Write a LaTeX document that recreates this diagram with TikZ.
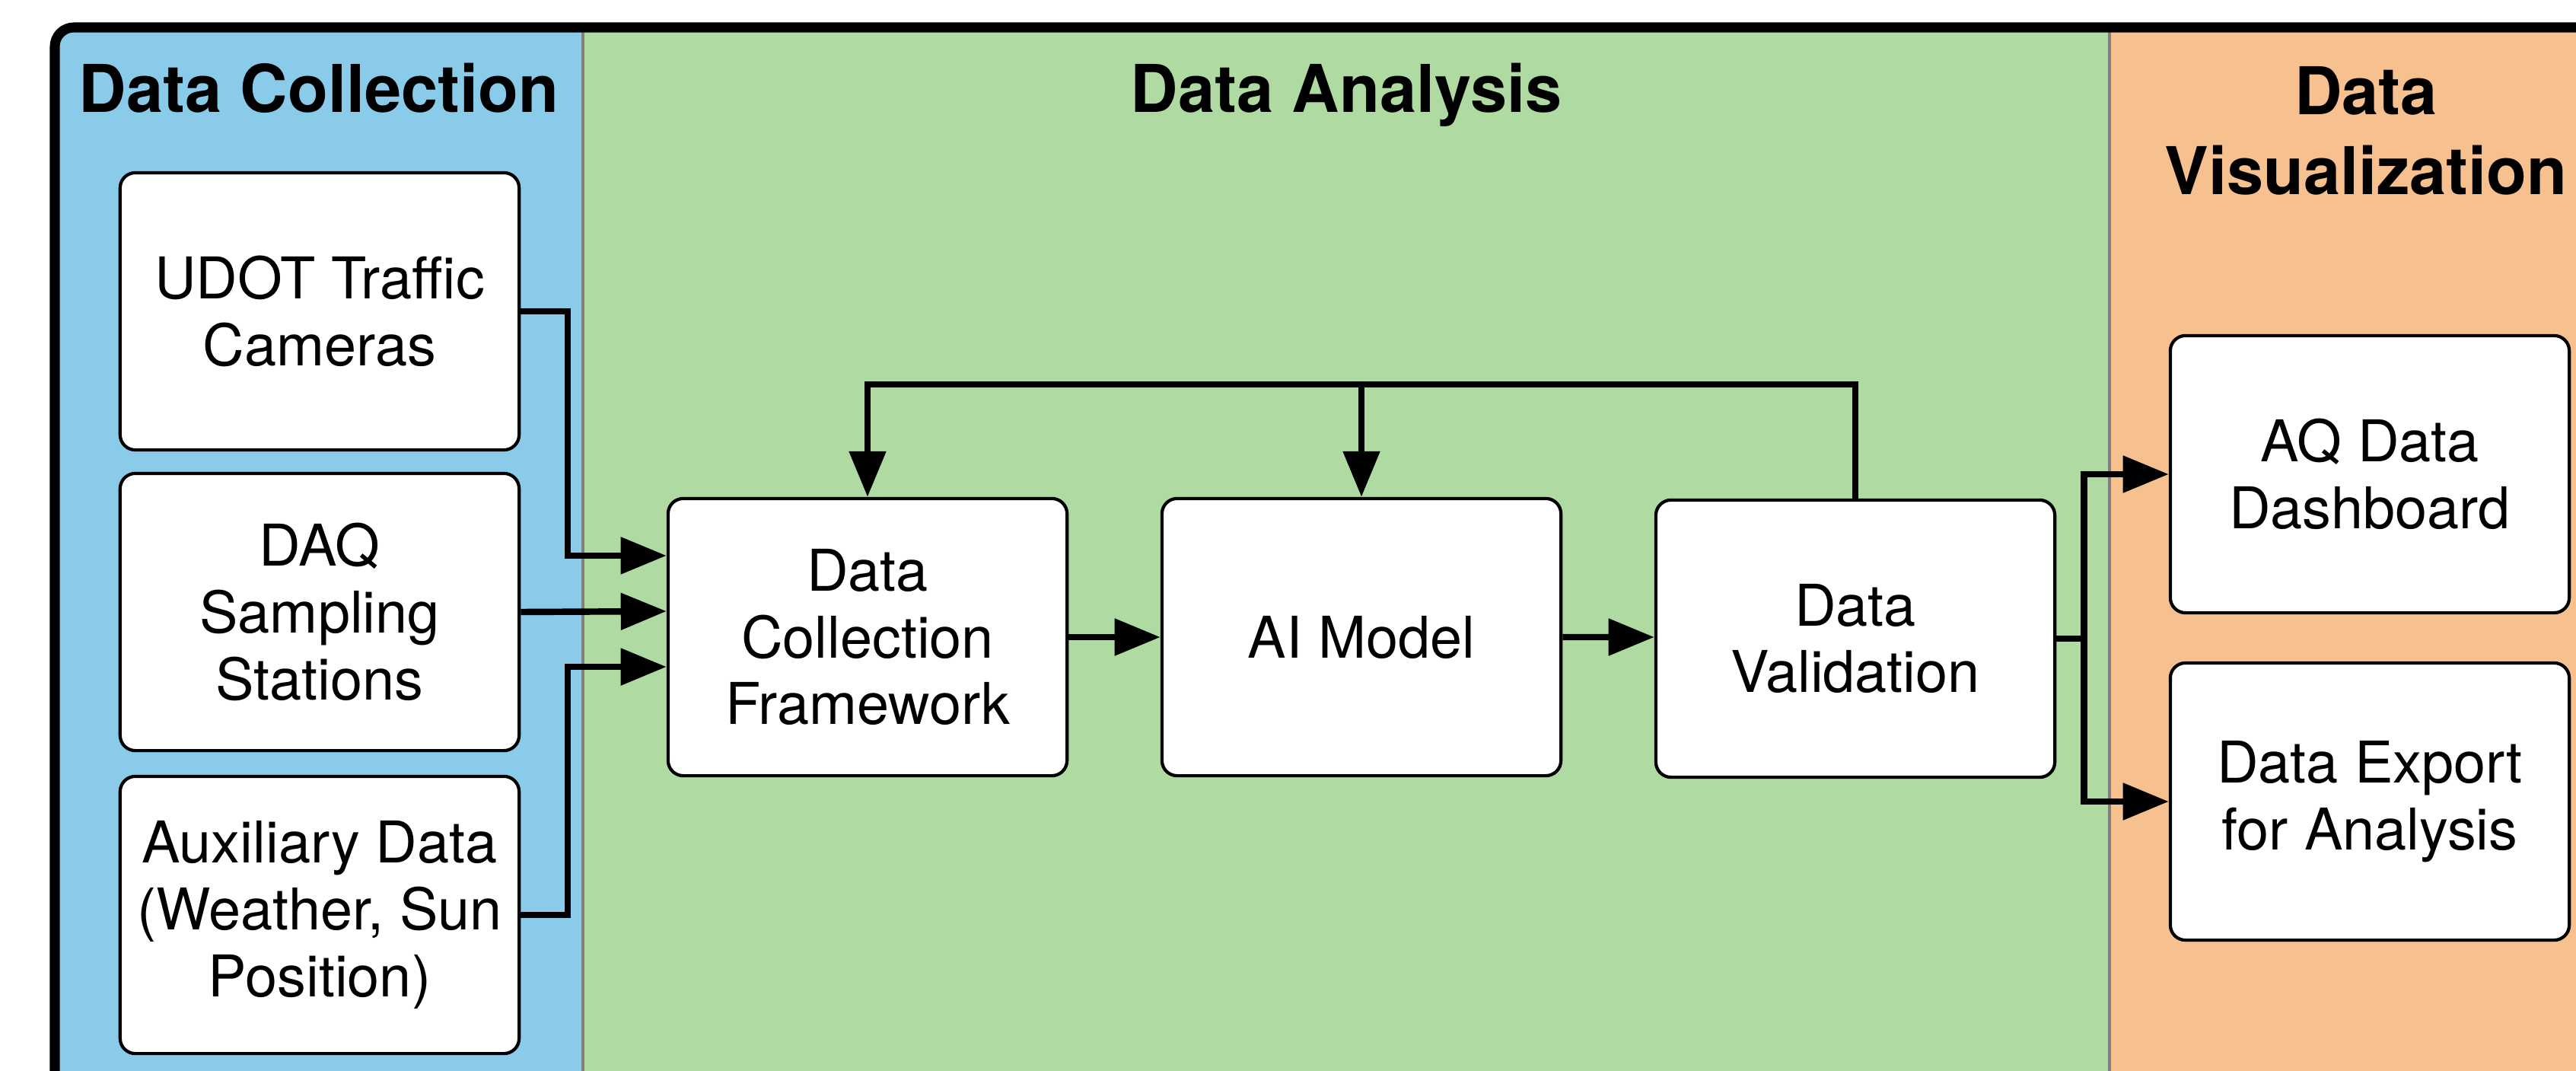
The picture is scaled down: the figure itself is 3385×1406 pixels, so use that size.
\documentclass[tikz,border=0pt]{standalone}
\usepackage{fontspec}
\setmainfont{TeX Gyre Heros}
\usetikzlibrary{arrows.meta}
\definecolor{panelblue}{RGB}{139,203,234}
\definecolor{panelgreen}{RGB}{175,219,163}
\definecolor{panelorange}{RGB}{247,192,143}
\definecolor{divgray}{RGB}{128,128,128}
\tikzset{
  box/.style={draw=black, line width=1.2pt, fill=white, rounded corners=0.2cm,
    minimum width=5.24cm, minimum height=3.64cm, align=center, inner sep=0pt,
    font=\fontsize{21.5}{25}\selectfont},
  paneltitle/.style={font=\bfseries\fontsize{24.6}{30}\selectfont, align=center, inner sep=0pt},
  conn/.style={draw=black, line width=2.4pt},
  arr/.style={conn, -{Triangle[length=0.6cm, width=0.47cm]}}
}
\begin{document}
\begin{tikzpicture}[x=0.01cm, y=-0.01cm]
\path[use as bounding box] (0,0) rectangle (3385,1406);
\clip (0,0) rectangle (3385,1406);
\fill[white] (0,0) rectangle (3385,1406);
% panels
\begin{scope}
  \clip[rounded corners=0.25cm] (72,36) rectangle (3446,1470);
  \fill[panelblue] (72,36) rectangle (766,1470);
  \fill[panelgreen] (766,36) rectangle (2772,1470);
  \fill[panelorange] (2772,36) rectangle (3446,1470);
\end{scope}
\draw[divgray, line width=1pt] (766,36) -- (766,1470);
\draw[divgray, line width=1pt] (2772,36) -- (2772,1470);
\draw[black, line width=3.7pt, rounded corners=0.25cm] (72,36) rectangle (3446,1470);
% titles
\node[paneltitle, anchor=base] (tcol) at (419,147) {Data Collection};
\node[paneltitle, anchor=base] (tana) at (1769,147) {Data Analysis};
\node[paneltitle, anchor=center] (tvis) at (3109,172) {Data\\Visualization};
% boxes
\node[box] (udot) at (420,409) {UDOT Traffic\\Cameras};
\node[box] (daq) at (420,804) {DAQ\\Sampling\\Stations};
\node[box] (aux) at (420,1202) {Auxiliary Data\\(Weather, Sun\\Position)};
\node[box] (dcf) at (1140,837) {Data\\Collection\\Framework};
\node[box] (ai) at (1789,837) {AI Model};
\node[box] (dv) at (2438,839) {Data\\Validation};
\node[box] (aq) at (3114,623) {AQ Data\\Dashboard};
\node[box] (exp) at (3114,1053) {Data Export\\for Analysis};
% inputs
\draw[arr] (udot.east) -- ++(62,0) |- ([yshift=1.07cm]dcf.west);
\draw[arr] (daq.east) -- ([yshift=0.34cm]dcf.west);
\draw[arr] (aux.east) -- ++(62,0) |- ([yshift=-0.39cm]dcf.west);
% main chain
\draw[arr] (dcf.east) -- (ai.west);
\draw[arr] (ai.east) -- ([yshift=0.02cm]dv.west);
% feedback
\draw[arr] (dv.north) -- ++(0,-150) coordinate (fbtop) -| (dcf.north);
\draw[arr] (ai.north |- fbtop) -- (ai.north);
% outputs
\draw[conn] (dv.east) -- ++(36,0) coordinate (split);
\draw[arr] (split) |- (aq.west);
\draw[arr] (split) |- (exp.west);
\end{tikzpicture}
\end{document}
